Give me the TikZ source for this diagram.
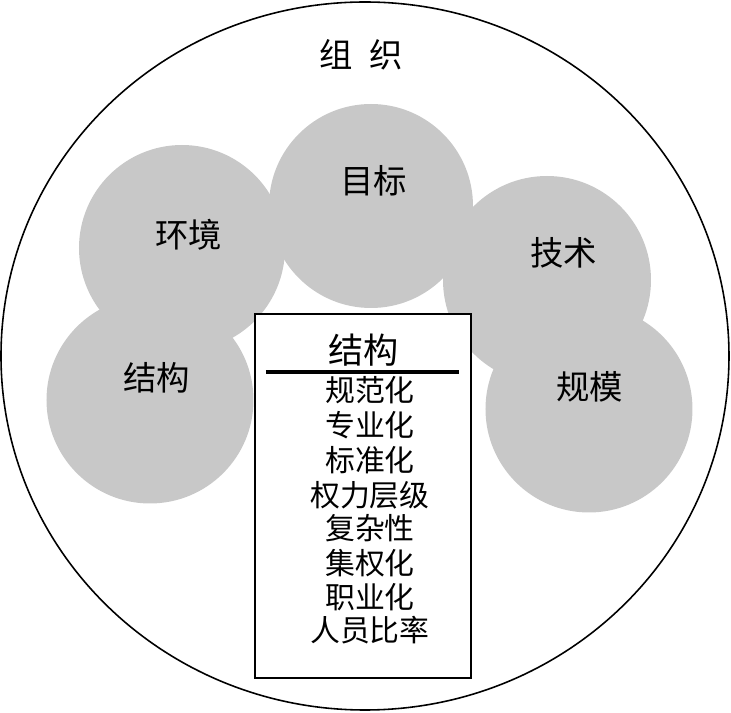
\documentclass[tikz,border=0pt]{standalone}
\usepackage{fontspec}
\setmainfont{Noto Sans CJK SC}
\definecolor{grisBurbuja}{RGB}{200,200,200}
\begin{document}
\begin{tikzpicture}[
      burbuja/.style={circle, fill=grisBurbuja, inner sep=0pt},
      marco/.style={draw=black, line width=1.1pt, fill=white, minimum width=4.32cm, minimum height=7.28cm},
      etiqueta/.style={font=\fontsize{19}{23}\selectfont, inner sep=0pt},
      etqLista/.style={font=\fontsize{17}{20}\selectfont, inner sep=0pt}
    ]
    \useasboundingbox (-7.30,-7.14) rectangle (7.32,7.12);

    % --- organizacion ---
    \draw[line width=0.9pt] (0,0) ellipse [x radius=7.28cm, y radius=7.08cm];
    \node[etiqueta] (org) at (-0.08,6.02) {组\enspace 织};

    % --- burbujas ---
    \node[burbuja, minimum size=4.08cm] (cMeta) at (0.12,3.00) {};
    \node[burbuja, minimum size=4.12cm] (cEntorno) at (-3.66,2.16) {};
    \node[burbuja, minimum size=4.16cm] (cTecno) at (3.64,1.52) {};
    \node[burbuja, minimum size=4.14cm] (cEstruc) at (-4.30,-0.88) {};
    \node[burbuja, minimum size=4.14cm] (cTamano) at (4.48,-1.06) {};

    \node[etiqueta] (tMeta) at (0.18,3.50) {目标};
    \node[etiqueta] (tEntorno) at (-3.52,2.42) {环境};
    \node[etiqueta] (tTecno) at (3.98,2.06) {技术};
    \node[etiqueta] (tEstruc) at (-4.16,-0.44) {结构};
    \node[etiqueta] (tTamano) at (4.50,-0.62) {规模};

    % --- caja de estructura ---
    \node[marco] (caja) at (-0.04,-2.80) {};
    \node[etiqueta, font=\fontsize{20}{24}\selectfont] (cajaTit) at (-0.02,0.12) {结构};
    \coordinate (reglaI) at (-1.98,-0.32);
    \coordinate (reglaD) at (1.88,-0.32);
    \draw[line width=2.1pt] (reglaI) -- (reglaD);

    \node[etqLista] (l1) at (0.10,-0.68) {规范化};
    \node[etqLista] (l2) at (0.10,-1.38) {专业化};
    \node[etqLista] (l3) at (0.10,-2.08) {标准化};
    \node[etqLista] (l4) at (0.10,-2.78) {权力层级};
    \node[etqLista] (l5) at (0.10,-3.44) {复杂性};
    \node[etqLista] (l6) at (0.10,-4.14) {集权化};
    \node[etqLista] (l7) at (0.10,-4.82) {职业化};
    \node[etqLista] (l8) at (0.10,-5.48) {人员比率};
  \end{tikzpicture}
\end{document}
